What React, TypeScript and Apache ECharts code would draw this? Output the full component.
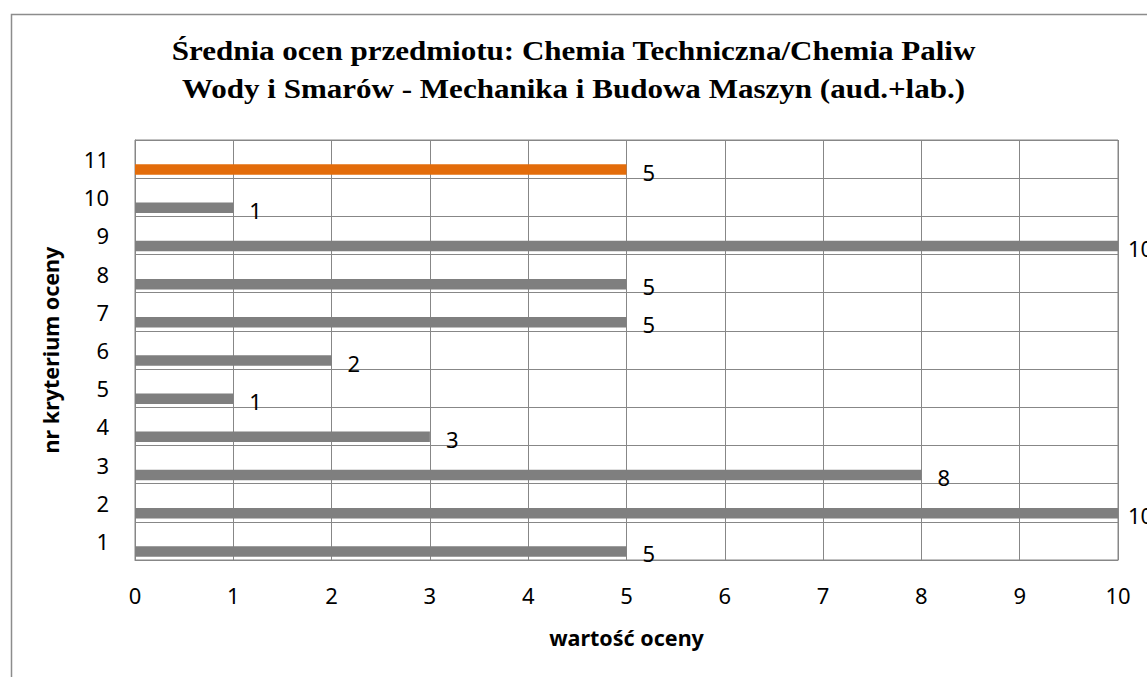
import React, { useEffect, useRef } from "react";
import * as echarts from "echarts";

const categories = ["1", "2", "3", "4", "5", "6", "7", "8", "9", "10", "11"];
const values = [5, 10, 8, 3, 1, 2, 5, 5, 10, 1, 5];
const highlightCategory = "11";
const xTicksMin = 0;
const xTicksMax = 10;
const titleLines = [
  "Średnia ocen przedmiotu: Chemia Techniczna/Chemia Paliw",
  "Wody i Smarów - Mechanika i Budowa Maszyn (aud.+lab.)",
];
const xAxisName = "wartość oceny";
const yAxisName = "nr kryterium oceny";

const GRAY = "#7f7f7f";
const ORANGE = "#e36c0a";
const LINE = "#878787";
const SANS = "'Noto Sans', 'Open Sans', sans-serif";
const SERIF = "'Liberation Serif', 'Times New Roman', serif";

export default function App() {
  const ref = useRef<HTMLDivElement>(null);
  useEffect(() => {
    if (!ref.current) return;
    const chart = echarts.init(ref.current, undefined, { renderer: "svg" });
    const data = values.map((v, i) => ({
      value: v,
      itemStyle: { color: categories[i] === highlightCategory ? ORANGE : GRAY },
      label: v >= xTicksMax ? { distance: 10 } : undefined,
    }));
    chart.setOption({
      animation: false,
      backgroundColor: "#fff",
      graphic: [
        {
          type: "rect",
          left: 9,
          top: 12,
          shape: { x: 0, y: 0, width: 1300, height: 800 },
          style: { fill: "none", stroke: "#8c8c8c", lineWidth: 1.5 },
          silent: true,
          z: -1,
        },
        ...titleLines.map((t, i) => ({
          type: "text",
          x: 573.5,
          y: 51 + i * 38,
          scaleX: 1.15,
          silent: true,
          style: {
            text: t,
            textAlign: "center",
            textVerticalAlign: "middle",
            fontFamily: SERIF,
            fontWeight: "bold",
            fontSize: 27,
            fill: "#000",
          },
        })),
      ],
      grid: {
        left: 135,
        right: 29,
        top: 140,
        bottom: 117,
        show: true,
        borderColor: LINE,
        borderWidth: 1,
      },
      xAxis: {
        type: "value",
        min: xTicksMin,
        max: xTicksMax,
        interval: 1,
        name: xAxisName,
        nameLocation: "middle",
        nameGap: 66,
        nameTextStyle: { fontFamily: SANS, fontWeight: "bold", fontSize: 21.5, color: "#000" },
        axisLine: { show: true, lineStyle: { color: LINE } },
        axisTick: { show: false },
        axisLabel: { fontFamily: SANS, fontSize: 22, color: "#000", margin: 24 },
        splitLine: { show: true, lineStyle: { color: LINE, width: 1 } },
      },
      yAxis: {
        type: "category",
        data: categories,
        name: yAxisName,
        nameLocation: "middle",
        nameRotate: 90,
        nameGap: 74,
        nameTextStyle: { fontFamily: SANS, fontWeight: "bold", fontSize: 21.5, color: "#000" },
        axisLine: { show: true, lineStyle: { color: LINE } },
        axisTick: { show: false },
        axisLabel: { fontFamily: SANS, fontSize: 22, color: "#000", margin: 26 },
        splitLine: { show: true, lineStyle: { color: LINE, width: 1 } },
      },
      series: [
        { type: "bar", name: "a", data: [], barWidth: 10.5, barGap: "0%" },
        { type: "bar", name: "b", data: [], barWidth: 10.5, barGap: "0%" },
        {
          type: "bar",
          name: "wartość",
          data,
          barWidth: 10.5,
          barGap: "0%",
          label: {
            show: true,
            position: "right",
            distance: 16,
            offset: [0, 2],
            fontFamily: SANS,
            fontSize: 22,
            color: "#000",
          },
        },
      ],
    });
    return () => chart.dispose();
  }, []);
  return (
    <div
      ref={ref}
      style={{ position: "absolute", left: 0, top: 0, width: 1147, height: 677 }}
    />
  );
}
